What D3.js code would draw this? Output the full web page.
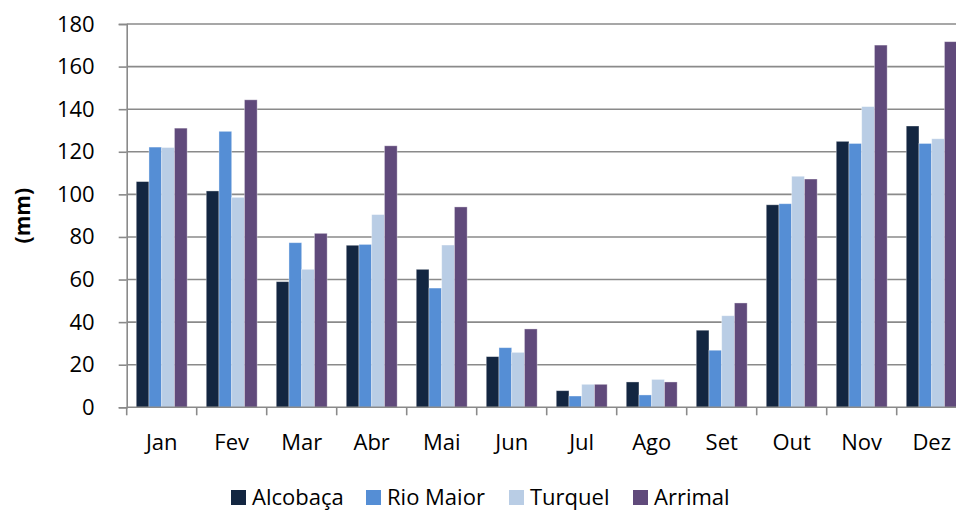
<!DOCTYPE html>
<html>
<head>
<meta charset="utf-8">
<script src="https://cdn.jsdelivr.net/npm/d3@7/dist/d3.min.js"></script>
<style>
  html, body { margin: 0; padding: 0; background: #fff; }
  svg { display: block; font-family: "Open Sans", "Liberation Sans", sans-serif; }
</style>
</head>
<body>
<svg id="chart" width="956" height="510"></svg>
<script>
// Monthly precipitation (mm) at four stations
const months = ["Jan", "Fev", "Mar", "Abr", "Mai", "Jun", "Jul", "Ago", "Set", "Out", "Nov", "Dez"];
const stations = ["Alcobaça", "Rio Maior", "Turquel", "Arrimal"];
const alcobaca = [106, 101.6, 59, 76.1, 64.8, 23.8, 7.8, 11.9, 36.2, 95.1, 124.9, 132.1];
const rioMaior = [122.2, 129.6, 77.3, 76.5, 56, 28, 5.3, 5.8, 26.8, 95.6, 123.9, 123.9];
const turquel  = [122, 98.6, 64.8, 90.5, 76.2, 25.8, 10.8, 13.1, 43, 108.5, 141.2, 126.1];
const arrimal  = [131.1, 144.4, 81.7, 122.8, 94.1, 36.8, 10.8, 11.9, 49, 107.2, 170.1, 171.7];
const yTicks = [0, 20, 40, 60, 80, 100, 120, 140, 160, 180];
const colors = ["#132641", "#558ed5", "#b9cde5", "#604a7b"];

const series = [alcobaca, rioMaior, turquel, arrimal];
const rows = months.map((m, i) => ({ month: m, values: series.map(s => s[i]) }));

const svg = d3.select("#chart");
const plotLeft = 126.7, plotTop = 24, plotW = 840, plotH = 383.3;

const x = d3.scaleBand().domain(months).range([plotLeft, plotLeft + plotW]);
const bw = x.bandwidth() / 5.5; // 150% gap width between groups
const xs = d3.scaleBand().domain(d3.range(stations.length))
  .range([0.75 * bw, 0.75 * bw + 4 * bw]);
const y = d3.scaleLinear().domain([0, 180]).range([plotTop + plotH, plotTop]);

// horizontal gridlines
svg.append("g")
  .selectAll("line")
  .data(yTicks.filter(d => d > 0))
  .join("line")
  .attr("x1", plotLeft).attr("x2", plotLeft + plotW)
  .attr("y1", d => y(d)).attr("y2", d => y(d))
  .attr("stroke", "#8a8a8a").attr("stroke-width", 1.6);

// bars
svg.append("g")
  .selectAll("g")
  .data(rows)
  .join("g")
  .attr("transform", d => `translate(${x(d.month)},0)`)
  .selectAll("rect")
  .data(d => d.values.map((v, k) => ({ v, k })))
  .join("rect")
  .attr("x", d => xs(d.k))
  .attr("width", xs.bandwidth())
  .attr("y", d => y(d.v))
  .attr("height", d => y(0) - y(d.v))
  .attr("fill", d => colors[d.k])
  .attr("stroke", "rgba(255,255,255,0.45)")
  .attr("stroke-width", 0.8);

// y axis
const yAxis = svg.append("g")
  .attr("transform", `translate(${plotLeft},0)`)
  .call(d3.axisLeft(y).tickValues(yTicks).tickSize(8).tickPadding(24));
yAxis.select(".domain").attr("stroke", "#8a8a8a").attr("stroke-width", 1.6);
yAxis.selectAll(".tick line").attr("stroke", "#8a8a8a").attr("stroke-width", 1.6);
yAxis.selectAll(".tick text").attr("font-size", 22).attr("fill", "#000")
  .attr("font-family", "'Open Sans', sans-serif");

// x axis with ticks between categories
const xAxisG = svg.append("g").attr("transform", `translate(0,${y(0)})`);
xAxisG.append("line")
  .attr("x1", plotLeft).attr("x2", plotLeft + plotW)
  .attr("stroke", "#8a8a8a").attr("stroke-width", 1.6);
xAxisG.selectAll("line.sep")
  .data(months)
  .join("line")
  .attr("class", "sep")
  .attr("x1", d => x(d)).attr("x2", d => x(d))
  .attr("y1", 0).attr("y2", 8)
  .attr("stroke", "#8a8a8a").attr("stroke-width", 1.6);
xAxisG.selectAll("text")
  .data(months)
  .join("text")
  .attr("x", d => x(d) + x.bandwidth() / 2)
  .attr("y", 43)
  .attr("text-anchor", "middle")
  .attr("font-size", 22)
  .attr("fill", "#000")
  .text(d => d);

// y axis title
svg.append("text")
  .attr("transform", `translate(30,${plotTop + plotH / 2}) rotate(-90)`)
  .attr("text-anchor", "middle")
  .attr("font-size", 21)
  .attr("font-weight", "bold")
  .attr("fill", "#000")
  .text("(mm)");

// legend
const legendX = [231, 366, 509, 633];
const legend = svg.append("g").selectAll("g")
  .data(stations)
  .join("g")
  .attr("transform", (d, i) => `translate(${legendX[i]},490)`);
legend.append("rect")
  .attr("width", 15).attr("height", 15)
  .attr("fill", (d, i) => colors[i]);
legend.append("text")
  .attr("x", 21).attr("y", 15)
  .attr("font-size", 22)
  .attr("fill", "#000")
  .text(d => d);
</script>
</body>
</html>
